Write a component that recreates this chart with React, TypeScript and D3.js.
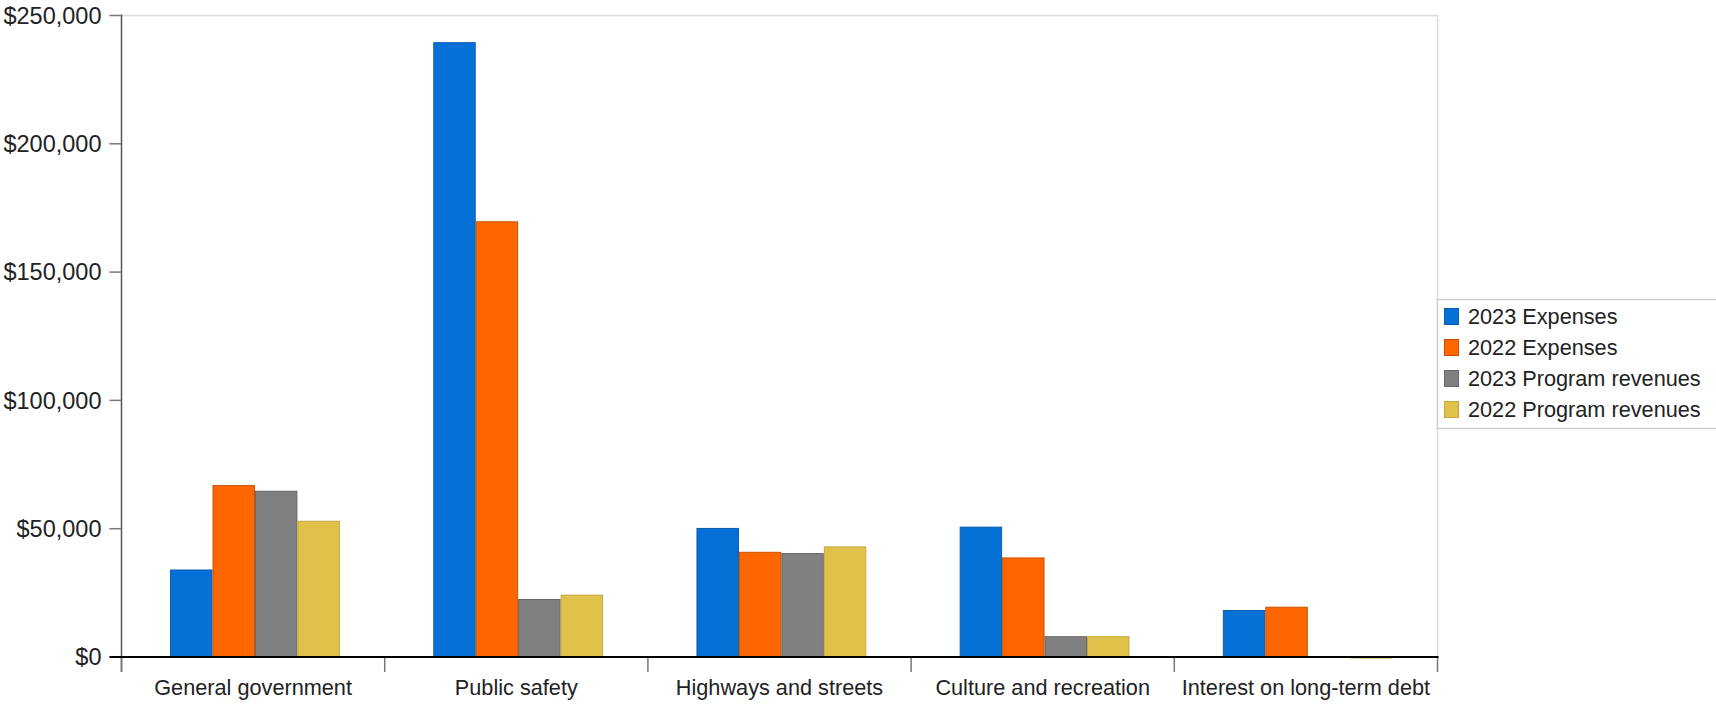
import React, { useEffect, useRef } from "react";
import * as d3 from "d3";

const categories = [
  "General government",
  "Public safety",
  "Highways and streets",
  "Culture and recreation",
  "Interest on long-term debt",
];
const seriesNames = [
  "2023 Expenses",
  "2022 Expenses",
  "2023 Program revenues",
  "2022 Program revenues",
];
const expenses2023 = [34100, 239600, 50300, 50800, 18300];
const expenses2022 = [67000, 169800, 41000, 38800, 19600];
const revenues2023 = [64800, 22600, 40500, 8100, 0];
const revenues2022 = [53100, 24300, 43100, 8100, -400];
const yTicks = [0, 50000, 100000, 150000, 200000, 250000];

const fills = ["#0570D6", "#FF6600", "#808080", "#E0C24A"];
const strokes = ["#0A5CB0", "#C85400", "#666666", "#C4A63A"];

export default function App() {
  const ref = useRef<SVGSVGElement | null>(null);

  useEffect(() => {
    document.body.style.margin = "0";
    const svg = d3.select(ref.current);
    svg.selectAll("*").remove();

    const W = 1716, H = 705;
    const left = 121.5, right = 1437.5, top = 15.5, bottom = 657;
    const font = "'Liberation Sans', Arial, sans-serif";
    const fs = 21.7;
    const fsY = 23.5;

    const series = [expenses2023, expenses2022, revenues2023, revenues2022];

    const x0 = d3.scaleBand<string>().domain(categories).range([left, right]).paddingInner(0).paddingOuter(0);
    const x1 = d3.scaleBand<number>().domain([0, 1, 2, 3]).range([0, x0.bandwidth()])
      .paddingOuter(1.1).paddingInner(0).align(0.52);
    const y = d3.scaleLinear().domain([0, 250000]).range([bottom, top]);

    svg.attr("width", W).attr("height", H).style("display", "block").style("background", "#fff");

    // plot frame (top/right)
    svg.append("path")
      .attr("d", `M${left},${top}H${right}V${bottom}`)
      .attr("fill", "none").attr("stroke", "#DCDCDC").attr("stroke-width", 1.5);

    // bars
    const g = svg.append("g");
    categories.forEach((c, ci) => {
      series.forEach((s, si) => {
        const v = s[ci];
        const xx = (x0(c) as number) + (x1(si) as number);
        const y0 = y(Math.max(0, v));
        const h = Math.abs(y(v) - y(0));
        g.append("rect")
          .attr("x", xx + 0.5)
          .attr("y", y0 + 0.5)
          .attr("width", x1.bandwidth() - 1)
          .attr("height", Math.max(0, h - 0.5))
          .attr("fill", fills[si])
          .attr("stroke", strokes[si])
          .attr("stroke-width", 1);
      });
    });

    // y axis
    const ya = svg.append("g");
    ya.append("line").attr("x1", left).attr("x2", left).attr("y1", top - 1).attr("y2", bottom + 15)
      .attr("stroke", "#555").attr("stroke-width", 1.5);
    yTicks.forEach((t) => {
      ya.append("line").attr("x1", left - 12).attr("x2", left).attr("y1", y(t)).attr("y2", y(t))
        .attr("stroke", "#777").attr("stroke-width", 1.5);
      ya.append("text").attr("x", left - 20).attr("y", y(t)).attr("dy", "0.35em")
        .attr("text-anchor", "end").attr("font-family", font).attr("font-size", fsY).attr("fill", "#222")
        .text(d3.format("$,")(t));
    });

    // x axis
    const xa = svg.append("g");
    const bounds = categories.map((c) => x0(c) as number).concat([right]);
    bounds.forEach((b) => {
      xa.append("line").attr("x1", b).attr("x2", b).attr("y1", bottom).attr("y2", bottom + 15)
        .attr("stroke", "#777").attr("stroke-width", 1.5);
    });
    xa.append("line").attr("x1", left - 12).attr("x2", right + 1).attr("y1", bottom).attr("y2", bottom)
      .attr("stroke", "#000").attr("stroke-width", 2);
    categories.forEach((c) => {
      xa.append("text").attr("x", (x0(c) as number) + x0.bandwidth() / 2).attr("y", 695)
        .attr("text-anchor", "middle").attr("font-family", font).attr("font-size", fs).attr("fill", "#222")
        .text(c);
    });

    // legend
    const lg = svg.append("g");
    lg.append("rect").attr("x", 1437.5).attr("y", 299.5).attr("width", 290).attr("height", 129)
      .attr("fill", "#fff").attr("stroke", "#D0D0D0").attr("stroke-width", 1.5);
    seriesNames.forEach((n, i) => {
      const ry = 308 + i * 31;
      lg.append("rect").attr("x", 1444.5).attr("y", ry + 0.5).attr("width", 14).attr("height", 16)
        .attr("fill", fills[i]).attr("stroke", strokes[i]).attr("stroke-width", 1);
      lg.append("text").attr("x", 1468).attr("y", ry + 16).attr("font-family", font)
        .attr("font-size", fs).attr("fill", "#222").text(n);
    });
  }, []);

  return <svg ref={ref} />;
}
